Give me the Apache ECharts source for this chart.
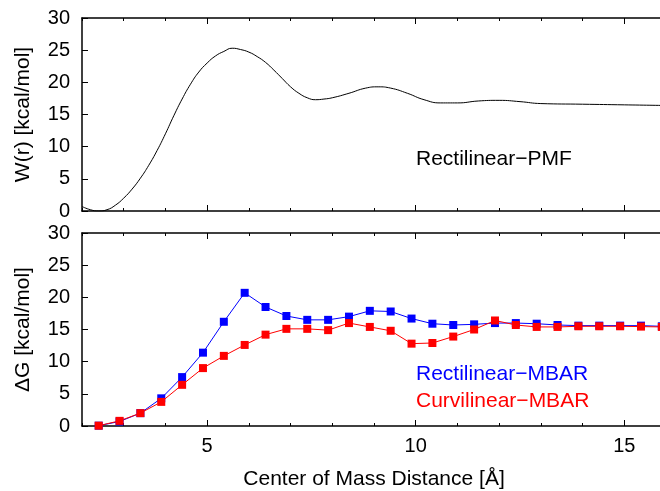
<!DOCTYPE html>
<html>
<head>
<meta charset="utf-8">
<script src="https://cdn.jsdelivr.net/npm/echarts@6/dist/echarts.min.js"></script>
<style>
  html, body { margin: 0; padding: 0; background: #fff; overflow: hidden; }
  #main { width: 670px; height: 491px; }
</style>
</head>
<body>
<div id="main"></div>
<script>
// PMF curve (top panel)
var pmfX = [2.0, 2.2, 2.4, 2.6, 2.8, 3.0, 3.2, 3.4, 3.6, 3.8, 4.0, 4.2, 4.4, 4.6, 4.8, 5.0, 5.2, 5.4, 5.6, 5.8,
            6.0, 6.2, 6.4, 6.6, 6.8, 7.0, 7.2, 7.4, 7.6, 7.8, 8.0, 8.4, 8.8, 9.1, 9.4, 9.8, 10.2, 10.6, 11.0,
            11.5, 12.0, 12.5, 13.0, 14.0, 15.0, 16.0];
var pmfY = [0.7, 0.2, 0.0, 0.2, 0.9, 2.0, 3.4, 5.1, 7.1, 9.4, 12.0, 14.8, 17.4, 19.7, 21.6, 23.0, 24.1, 24.8, 25.3, 25.1,
            24.7, 24.0, 23.1, 21.9, 20.6, 19.3, 18.3, 17.6, 17.3, 17.4, 17.6, 18.3, 19.1, 19.3, 19.1, 18.3, 17.3, 16.8, 16.8,
            17.1, 17.2, 17.0, 16.7, 16.6, 16.5, 16.4];

// MBAR windows (bottom panel)
var mbarX = [2.4, 2.9, 3.4, 3.9, 4.4, 4.9, 5.4, 5.9, 6.4, 6.9, 7.4, 7.9, 8.4, 8.9, 9.4, 9.9, 10.4, 10.9,
             11.4, 11.9, 12.4, 12.9, 13.4, 13.9, 14.4, 14.9, 15.4, 15.9];
var rectY = [0.05, 0.7, 2.0, 4.3, 7.6, 11.4, 16.2, 20.7, 18.5, 17.1, 16.5, 16.5, 17.0, 17.9, 17.8, 16.7, 15.9, 15.7,
             15.8, 16.0, 16.0, 15.9, 15.7, 15.6, 15.6, 15.6, 15.6, 15.5];
var curvY = [0.05, 0.8, 2.0, 3.75, 6.4, 9.0, 10.9, 12.6, 14.2, 15.1, 15.1, 14.9, 16.0, 15.4, 14.8, 12.8, 12.9, 13.9,
             15.0, 16.4, 15.7, 15.4, 15.4, 15.5, 15.5, 15.5, 15.45, 15.4];

var xMajorTicks = [5, 10, 15];
var xRange = [2, 16];
var yRange = [0, 30];

function pairs(xs, ys) {
  return xs.map(function (x, i) { return [x, ys[i]]; });
}

var font = 'Liberation Sans, Arial, sans-serif';

// x axes: major ticks (custom) + minor ticks (every 1), bottom and top of each grid
function xAxesFor(grid, withLabels) {
  var list = [];
  ['bottom', 'top'].forEach(function (pos) {
    list.push({
      type: 'value', gridIndex: grid, position: pos, min: xRange[0], max: xRange[1],
      axisLine: { show: true, onZero: false, lineStyle: { color: '#000', width: 1.5 } },
      axisTick: { show: true, inside: true, length: 6, customValues: xMajorTicks, lineStyle: { color: '#000' } },
      axisLabel: {
        show: withLabels && pos === 'bottom', customValues: xMajorTicks,
        color: '#000', fontSize: 20, fontFamily: font, margin: 10
      },
      splitLine: { show: false },
      name: (withLabels && pos === 'bottom') ? 'Center of Mass Distance [Å]' : '',
      nameLocation: 'middle', nameGap: 43,
      nameTextStyle: { color: '#000', fontSize: 21, fontFamily: font }
    });
    list.push({
      type: 'value', gridIndex: grid, position: pos, min: xRange[0], max: xRange[1], interval: 1,
      axisLine: { show: false, onZero: false },
      axisTick: { show: true, inside: true, length: 3, lineStyle: { color: '#000' } },
      axisLabel: { show: false },
      splitLine: { show: false }
    });
  });
  return list;
}

function yAxesFor(grid, title) {
  return [{
    type: 'value', gridIndex: grid, position: 'left', min: yRange[0], max: yRange[1], interval: 5,
    axisLine: { show: true, onZero: false, lineStyle: { color: '#000', width: 1.5 } },
    axisTick: { show: true, inside: true, length: 6, lineStyle: { color: '#000' } },
    axisLabel: { color: '#000', fontSize: 20, fontFamily: font, margin: 12 },
    splitLine: { show: false },
    name: title, nameLocation: 'middle', nameGap: 48,
    nameTextStyle: { color: '#000', fontSize: 21, fontFamily: font }
  }, {
    type: 'value', gridIndex: grid, position: 'right', min: yRange[0], max: yRange[1], interval: 5,
    axisLine: { show: true, onZero: false, lineStyle: { color: '#000', width: 1.5 } },
    axisTick: { show: true, inside: true, length: 6, lineStyle: { color: '#000' } },
    axisLabel: { show: false },
    splitLine: { show: false }
  }];
}

var chart = echarts.init(document.getElementById('main'), null, { renderer: 'canvas' });

var option = {
  backgroundColor: '#fff',
  animation: false,
  grid: [
    { left: 82, right: 4, top: 18, height: 193 },
    { left: 82, right: 4, top: 233, height: 194 }
  ],
  xAxis: xAxesFor(0, false).concat(xAxesFor(1, true)),
  yAxis: yAxesFor(0, 'W(r) [kcal/mol]').concat(yAxesFor(1, 'ΔG [kcal/mol]')),
  series: [
    {
      name: 'Rectilinear−PMF', type: 'line', xAxisIndex: 0, yAxisIndex: 0,
      data: pairs(pmfX, pmfY), smooth: true, showSymbol: false,
      lineStyle: { color: '#000', width: 1 }
    },
    {
      name: 'Rectilinear−MBAR', type: 'line', xAxisIndex: 4, yAxisIndex: 2,
      data: pairs(mbarX, rectY), symbol: 'rect', symbolSize: 8,
      itemStyle: { color: '#0000ff' }, lineStyle: { color: '#0000ff', width: 1 }, z: 2
    },
    {
      name: 'Curvilinear−MBAR', type: 'line', xAxisIndex: 4, yAxisIndex: 2,
      data: pairs(mbarX, curvY), symbol: 'rect', symbolSize: 8,
      itemStyle: { color: '#ff0000' }, lineStyle: { color: '#ff0000', width: 1 }, z: 3
    }
  ],
  graphic: [
    { type: 'text', left: 416, top: 149, style: { text: 'Rectilinear−PMF', fill: '#000', font: '21px ' + font } },
    { type: 'text', left: 416, top: 364, style: { text: 'Rectilinear−MBAR', fill: '#0000ff', font: '21px ' + font } },
    { type: 'text', left: 416, top: 391, style: { text: 'Curvilinear−MBAR', fill: '#ff0000', font: '21px ' + font } }
  ]
};

chart.setOption(option);
</script>
</body>
</html>
